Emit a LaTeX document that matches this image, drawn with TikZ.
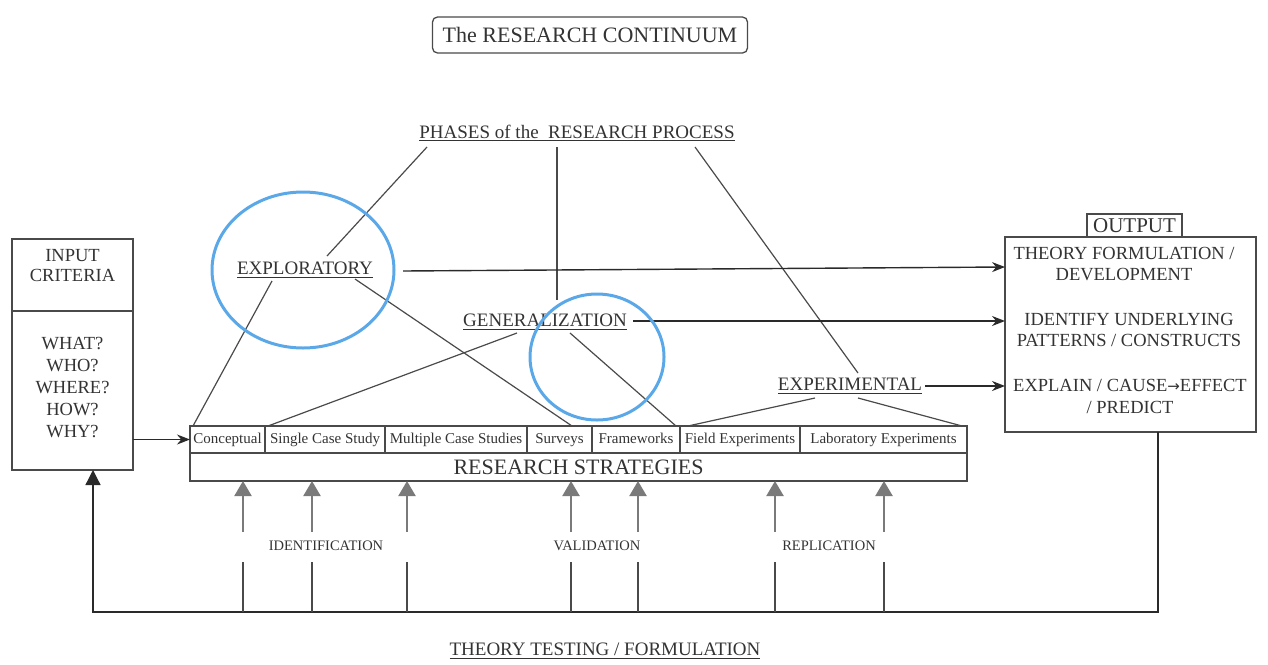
\documentclass[tikz,border=0pt]{standalone}
\usepackage{fontspec}
\setmainfont{Liberation Serif}
\newfontfamily\arrfont{DejaVu Sans}
\usetikzlibrary{arrows.meta,calc}
\definecolor{ink}{HTML}{333333}
\definecolor{lineg}{HTML}{4A4A4A}
\definecolor{arrg}{HTML}{7A7A7A}
\definecolor{circ}{HTML}{5BA8E8}
\definecolor{dark}{HTML}{2A2A2A}
\newcommand{\undl}[1]{\setbox0=\hbox{#1}\dimen0=\wd0\relax\rlap{\box0}\rule[-3pt]{\dimen0}{1.2pt}}
\begin{document}
\begin{tikzpicture}[x=1pt,y=-1pt,
 lbl/.style={text=ink, inner sep=0pt, font=\fontsize{19}{21}\selectfont},
 boxs/.style={draw=lineg, line width=1.3pt, inner sep=0pt, outer sep=0pt},
 cell/.style={boxs, anchor=north west, minimum height=27pt, text height=10.5pt, text depth=3pt, text=ink, font=\fontsize{15}{16}\selectfont},
 conn/.style={draw=lineg, line width=1.2pt},
 blk/.style={draw=dark, line width=1.4pt, -{Stealth[length=13pt,width=10pt]}},
 garr/.style={draw=arrg, line width=2.2pt, -{Triangle[length=15pt,width=17pt]}},
 gline/.style={draw=lineg, line width=1.2pt},
 loop/.style={draw=dark, line width=1.3pt, -{Triangle[length=15pt,width=15pt]}},
 bluec/.style={draw=circ, line width=3pt}]

\useasboundingbox (0,0) rectangle (1268,664);

% title
\node[boxs, rounded corners=5pt, minimum width=315pt, minimum height=36pt, text=ink, font=\fontsize{22}{24}\selectfont] (title) at (590,35) {The RESEARCH CONTINUUM};

% phases
\node[lbl] (phases) at (577,133) {\undl{PHASES of the\ \ RESEARCH PROCESS}};
\node[lbl] (expl) at (305,270) {\undl{EXPLORATORY}};
\node[lbl] (gen) at (545,322) {\undl{GENERALIZATION}};
\node[lbl] (experi) at (850,386) {\undl{EXPERIMENTAL}};

% input box
\node[boxs, minimum width=121pt, minimum height=231pt] (inbox) at (72.5,354.5) {};
\draw[conn] ($(inbox.north west)+(0,72)$) -- ($(inbox.north east)+(0,72)$);
\node[lbl, align=center, font=\fontsize{18.5}{20}\selectfont] (intitle) at (72.5,266) {INPUT\\CRITERIA};
\node[lbl, align=center, font=\fontsize{18.5}{22}\selectfont] (inq) at (72.5,388) {WHAT?\\WHO?\\WHERE?\\HOW?\\WHY?};

% strategies
\node[cell, minimum width=75pt] (c1) at (190,426) {Conceptual};
\node[cell, minimum width=120pt] (c2) at (c1.north east) {Single Case Study};
\node[cell, minimum width=142pt] (c3) at (c2.north east) {Multiple Case Studies};
\node[cell, minimum width=65pt] (c4) at (c3.north east) {Surveys};
\node[cell, minimum width=88pt] (c5) at (c4.north east) {Frameworks};
\node[cell, minimum width=120pt] (c6) at (c5.north east) {Field Experiments};
\node[cell, minimum width=167pt] (c7) at (c6.north east) {Laboratory Experiments};
\node[boxs, anchor=north west, minimum width=777pt, minimum height=28pt, text=ink, font=\fontsize{22}{24}\selectfont] (rs) at (190,453) {RESEARCH STRATEGIES};

% output
\node[boxs, minimum width=251pt, minimum height=195pt] (outbox) at (1130.5,334.5) {};
\node[boxs, minimum width=95pt, minimum height=23pt, text=ink, font=\fontsize{21}{22}\selectfont] (outlbl) at (1134.5,225.5) {OUTPUT};
\node[lbl, align=center, font=\fontsize{18.5}{21}\selectfont] (o1) at (1124,264) {THEORY FORMULATION /\\DEVELOPMENT};
\node[lbl, align=center, font=\fontsize{18.5}{21}\selectfont] (o2) at (1129,330) {IDENTIFY UNDERLYING\\PATTERNS / CONSTRUCTS};
\node[lbl, align=center, font=\fontsize{18.5}{22}\selectfont] (o3) at (1130,396) {EXPLAIN / CAUSE{\arrfont\fontsize{15}{15}\selectfont →}EFFECT\\/ PREDICT};

% phase connectors
\draw[conn] ($(phases.center)+(-150,14)$) -- ($(expl.center)+(22,-14)$);
\draw[conn] ($(phases.center)+(-20,14)$) -- ($(gen.center)+(12,-22)$);
\draw[conn] ($(phases.center)+(118,14)$) -- ($(experi.center)+(8,-13)$);

% to strategies
\draw[conn] ($(expl.center)+(-33,11)$) -- ($(c1.north west)+(3,0)$);
\draw[conn] ($(expl.center)+(50,9)$) -- ($(c4.north east)+(-20,0)$);
\draw[conn] ($(gen.center)+(-28,11)$) -- ($(c2.north west)+(3,0)$);
\draw[conn] ($(gen.center)+(25,11)$) -- ($(c5.north east)+(-4,0)$);
\draw[conn] ($(experi.center)+(-35,12)$) -- ($(c6.north west)+(8,0)$);
\draw[conn] ($(experi.center)+(8,12)$) -- ($(c7.north east)+(-5,0)$);

% to output
\draw[blk] ($(expl.center)+(98,1)$) -- ($(outbox.north west)+(0,30)$);
\draw[blk] ($(gen.center)+(88,-1)$) -- ($(outbox.north west)+(0,84)$);
\draw[blk] ($(experi.center)+(75,0)$) -- ($(outbox.north west)+(0,149)$);

% input to strategies
\draw[blk] (inbox.east |- c1.west) -- (c1.west);

% feedback loop
\coordinate (fr) at (1158,612);
\coordinate (fl) at (93,612);
\draw[loop] ($(outbox.south)+(27.5,0)$) -- (fr) -- (fl) -- (inbox.south -| fl);

% gray arrows
\foreach \i/\x in {1/243,2/312,3/407,4/571,5/638,6/775,7/884} {
  \coordinate (ga\i) at (\x,532);
  \coordinate (gb\i) at (\x,562);
  \draw[garr] (ga\i) -- (ga\i |- rs.south);
  \draw[gline] (gb\i) -- (gb\i |- fl);
}

\node[lbl, font=\fontsize{14.5}{16}\selectfont] (idn) at (326,546) {IDENTIFICATION};
\node[lbl, font=\fontsize{14.5}{16}\selectfont] (val) at (597,546) {VALIDATION};
\node[lbl, font=\fontsize{14.5}{16}\selectfont] (rep) at (829,546) {REPLICATION};

\node[lbl] (tt) at (605,651) {\undl{THEORY TESTING / FORMULATION}};

% blue circles
\draw[bluec] (303,270) ellipse [x radius=91pt, y radius=78pt];
\draw[bluec] (597,357) ellipse [x radius=67pt, y radius=63pt];
\end{tikzpicture}
\end{document}
